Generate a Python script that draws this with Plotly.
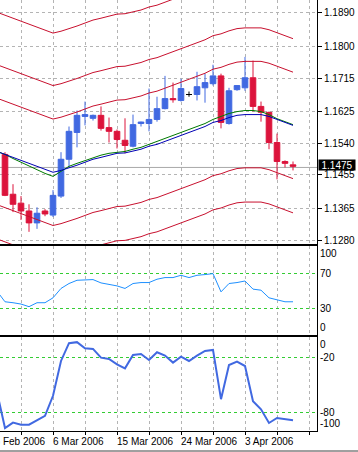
import plotly.graph_objects as go

# ---------------- data ----------------
bar_index = list(range(0, 37))          # one bar per trading day (Sunday bars included)
line_index = list(range(-1, 37))        # indicator lines start one bar earlier (off the left edge)

open_ = [1.1510, 1.1403, 1.1379, 1.1358, 1.1326, 1.1358, 1.1347, 1.1398, 1.1497, 1.1569,
         1.1612, 1.1607, 1.1615, 1.1582, 1.1572, 1.1548, 1.1532, 1.1593, 1.1593, 1.1604,
         1.1633, 1.1660, 1.1655, 1.1671, 1.1671, 1.1689, 1.1700, 1.1721, 1.1593, 1.1684,
         1.1689, 1.1716, 1.1639, 1.1623, 1.1542, 1.1491, 1.1482]
high = [1.1516, 1.1430, 1.1398, 1.1376, 1.1368, 1.1363, 1.1414, 1.1516, 1.1585, 1.1628,
        1.1652, 1.1617, 1.1639, 1.1609, 1.1577, 1.1607, 1.1617, 1.1598, 1.1687, 1.1665,
        1.1721, 1.1703, 1.1713, 1.1679, 1.1732, 1.1727, 1.1751, 1.1727, 1.1689, 1.1695,
        1.1772, 1.1762, 1.1652, 1.1625, 1.1566, 1.1494, 1.1491]
low = [1.1398, 1.1355, 1.1334, 1.1302, 1.1310, 1.1344, 1.1342, 1.1393, 1.1475, 1.1529,
       1.1588, 1.1601, 1.1574, 1.1542, 1.1526, 1.1513, 1.1529, 1.1585, 1.1572, 1.1598,
       1.1631, 1.1649, 1.1652, 1.1665, 1.1655, 1.1649, 1.1695, 1.1580, 1.1590, 1.1681,
       1.1681, 1.1625, 1.1598, 1.1524, 1.1443, 1.1475, 1.1467]
close = [1.1400, 1.1376, 1.1358, 1.1326, 1.1352, 1.1350, 1.1400, 1.1497, 1.1572, 1.1615,
         1.1617, 1.1615, 1.1580, 1.1572, 1.1550, 1.1534, 1.1590, 1.1597, 1.1604, 1.1633,
         1.1660, 1.1657, 1.1687, 1.1671, 1.1692, 1.1703, 1.1721, 1.1596, 1.1681, 1.1695,
         1.1716, 1.1639, 1.1623, 1.1542, 1.1491, 1.1486, 1.1478]

ma_blue = [1.1518, 1.1510, 1.1502, 1.1494, 1.1486, 1.1478, 1.1470, 1.1462, 1.1467, 1.1473,
           1.1481, 1.1489, 1.1497, 1.1502, 1.1508, 1.1513, 1.1514, 1.1518, 1.1524, 1.1532,
           1.1537, 1.1545, 1.1553, 1.1561, 1.1569, 1.1577, 1.1585, 1.1596, 1.1601, 1.1609,
           1.1615, 1.1617, 1.1617, 1.1617, 1.1612, 1.1604, 1.1596, 1.1588]
ma_green = [1.1518, 1.1510, 1.1499, 1.1489, 1.1478, 1.1470, 1.1459, 1.1451, 1.1465, 1.1478,
            1.1486, 1.1494, 1.1502, 1.1508, 1.1513, 1.1516, 1.1518, 1.1524, 1.1529, 1.1537,
            1.1545, 1.1553, 1.1561, 1.1569, 1.1577, 1.1585, 1.1593, 1.1604, 1.1612, 1.1620,
            1.1625, 1.1628, 1.1628, 1.1625, 1.1617, 1.1606, 1.1598, 1.1590]

band_upper_3 = [1.1892, 1.1884, 1.1876, 1.1868, 1.1860, 1.1852, 1.1844, 1.1836, 1.1841, 1.1847,
                1.1855, 1.1863, 1.1871, 1.1876, 1.1882, 1.1887, 1.1888, 1.1892, 1.1898, 1.1906,
                1.1911, 1.1919, 1.1927, 1.1935, 1.1943, 1.1951, 1.1959, 1.1970, 1.1975, 1.1983,
                1.1989, 1.1991, 1.1991, 1.1991, 1.1986, 1.1978, 1.1970, 1.1962]
band_upper_2 = [1.1751, 1.1743, 1.1735, 1.1727, 1.1719, 1.1711, 1.1703, 1.1695, 1.1700, 1.1706,
                1.1714, 1.1722, 1.1730, 1.1735, 1.1741, 1.1746, 1.1747, 1.1751, 1.1757, 1.1765,
                1.1770, 1.1778, 1.1786, 1.1794, 1.1802, 1.1810, 1.1818, 1.1829, 1.1834, 1.1842,
                1.1848, 1.1850, 1.1850, 1.1850, 1.1845, 1.1837, 1.1829, 1.1821]
band_upper_1 = [1.1661, 1.1653, 1.1645, 1.1637, 1.1629, 1.1621, 1.1613, 1.1605, 1.1610, 1.1616,
                1.1624, 1.1632, 1.1640, 1.1645, 1.1651, 1.1656, 1.1657, 1.1661, 1.1667, 1.1675,
                1.1680, 1.1688, 1.1696, 1.1704, 1.1712, 1.1720, 1.1728, 1.1739, 1.1744, 1.1752,
                1.1758, 1.1760, 1.1760, 1.1760, 1.1755, 1.1747, 1.1739, 1.1731]
band_lower_1 = [1.1375, 1.1367, 1.1359, 1.1351, 1.1343, 1.1335, 1.1327, 1.1319, 1.1324, 1.1330,
                1.1338, 1.1346, 1.1354, 1.1359, 1.1365, 1.1370, 1.1371, 1.1375, 1.1381, 1.1389,
                1.1394, 1.1402, 1.1410, 1.1418, 1.1426, 1.1434, 1.1442, 1.1453, 1.1458, 1.1466,
                1.1472, 1.1474, 1.1474, 1.1474, 1.1469, 1.1461, 1.1453, 1.1445]
band_lower_2 = [1.1283, 1.1275, 1.1267, 1.1259, 1.1251, 1.1243, 1.1235, 1.1227, 1.1232, 1.1238,
                1.1246, 1.1254, 1.1262, 1.1267, 1.1273, 1.1278, 1.1279, 1.1283, 1.1289, 1.1297,
                1.1302, 1.1310, 1.1318, 1.1326, 1.1334, 1.1342, 1.1350, 1.1361, 1.1366, 1.1374,
                1.1380, 1.1382, 1.1382, 1.1382, 1.1377, 1.1369, 1.1361, 1.1353]

rsi = [50.0, 37.9, 36.8, 35.3, 32.3, 36.8, 36.8, 42.4, 53.1, 58.7,
       62.4, 63.2, 63.2, 59.4, 57.9, 56.0, 53.1, 58.7, 59.8, 59.8,
       63.6, 65.5, 65.5, 68.1, 65.5, 68.1, 68.9, 70.0, 49.2, 58.7,
       59.8, 61.6, 52.3, 51.1, 42.4, 39.8, 37.9, 37.9]
wpr = [-58.0, -96.8, -90.9, -93.1, -93.1, -88.4, -83.6, -61.8, -24.0, -4.7,
       -3.6, -10.2, -10.9, -20.4, -21.8, -27.6, -32.0, -17.5, -16.4, -22.9,
       -14.5, -18.2, -25.8, -19.3, -24.0, -18.2, -13.1, -12.0, -65.5, -28.4,
       -24.8, -29.5, -67.6, -76.4, -91.3, -85.9, -87.3, -88.4]

price_ticks = [1.1890, 1.1800, 1.1715, 1.1625, 1.1540, 1.1455, 1.1365, 1.1280]
price_tick_labels = ["1.1890", "1.1800", "1.1715", "1.1625", "1.1540", "1.1455", "1.1365", "1.1280"]
last_price = 1.1475
last_price_label = "1.1475"

rsi_levels = [70, 30]
rsi_level_labels = ["70", "30"]
rsi_end_labels = [(100, "100"), (0, "0")]
wpr_levels = [-20, -80]
wpr_level_labels = ["-20", "-80"]
wpr_end_labels = [(0, "0"), (-100, "-100")]

date_labels = ["26 Feb 2006", "6 Mar 2006", "15 Mar 2006", "24 Mar 2006", "3 Apr 2006"]
date_label_index = [-2, 6, 14, 22, 30]
grid_index = list(range(2, 39, 4))

# ---------------- styles ----------------
X_RANGE = [-0.625, 39.0]
BULL = "#4169E1"
BEAR = "#DC143C"
BAND = "#C8102E"
GRID = "#B4B4B4"
LEVEL = "#33CC33"
FONT = dict(family="Liberation Sans, Arial", size=10, color="black")

fig = go.Figure()

# envelope bands
for band in [band_upper_3, band_upper_2, band_upper_1, band_lower_1, band_lower_2]:
    fig.add_trace(go.Scatter(x=line_index, y=band, mode="lines",
                             line=dict(color=BAND, width=1), xaxis="x", yaxis="y",
                             hoverinfo="skip"))

# candles: bull, bear, doji drawn as separate candlestick traces
def subset(cond):
    ids = [i for i in range(len(bar_index)) if cond(open_[i], close[i])]
    return ([bar_index[i] for i in ids], [open_[i] for i in ids], [high[i] for i in ids],
            [low[i] for i in ids], [close[i] for i in ids])

for cond, color in [(lambda o, c: c > o, BULL), (lambda o, c: c < o, BEAR), (lambda o, c: c == o, "black")]:
    xs, o, h, l, c = subset(cond)
    if not xs:
        continue
    fig.add_trace(go.Candlestick(
        x=xs, open=o, high=h, low=l, close=c, xaxis="x", yaxis="y",
        increasing=dict(line=dict(color=color, width=1), fillcolor=color),
        decreasing=dict(line=dict(color=color, width=1), fillcolor=color),
        whiskerwidth=0, hoverinfo="skip"))

# moving averages
fig.add_trace(go.Scatter(x=line_index, y=ma_green, mode="lines",
                         line=dict(color="#007A00", width=1), xaxis="x", yaxis="y", hoverinfo="skip"))
fig.add_trace(go.Scatter(x=line_index, y=ma_blue, mode="lines",
                         line=dict(color="#0000B4", width=1), xaxis="x", yaxis="y", hoverinfo="skip"))

# oscillator panels
fig.add_trace(go.Scatter(x=line_index, y=rsi, mode="lines",
                         line=dict(color="#1E90FF", width=1), xaxis="x2", yaxis="y2", hoverinfo="skip"))
fig.add_trace(go.Scatter(x=line_index, y=wpr, mode="lines",
                         line=dict(color="#4169E1", width=2), xaxis="x3", yaxis="y3", hoverinfo="skip"))

# ---------------- layout ----------------
H_PLOT = 431.0
def dom(top_px, bottom_px):
    return [(H_PLOT - bottom_px) / H_PLOT, (H_PLOT - top_px) / H_PLOT]

xcommon = dict(range=X_RANGE, tickvals=grid_index, showticklabels=False, showgrid=True,
               gridcolor=GRID, griddash="3px,3px", gridwidth=1, zeroline=False,
               showline=True, linecolor="black", linewidth=1, fixedrange=True, automargin=False)

fig.update_layout(
    width=358, height=452,
    margin=dict(l=0, r=41, t=0, b=21, autoexpand=False),
    paper_bgcolor="white", plot_bgcolor="white",
    showlegend=False,
    font=FONT,
    boxgap=0.3, boxgroupgap=0,
    xaxis=dict(**xcommon, domain=[0, 1], anchor="y", ticks="", rangeslider=dict(visible=False)),
    xaxis2=dict(**xcommon, domain=[0, 1], anchor="y2", matches="x", ticks="", mirror=True),
    xaxis3=dict(**xcommon, domain=[0, 1], anchor="y3", matches="x", mirror=True,
                ticks="outside", ticklen=3, tickcolor="black"),
    yaxis=dict(domain=dom(0, 244), anchor="x", side="right", range=[1.12693, 1.19249],
               tickvals=price_ticks, ticktext=price_tick_labels, ticks="outside", ticklen=4,
               tickcolor="black", showline=True, linecolor="black", linewidth=1,
               showgrid=True, gridcolor=GRID, griddash="3px,3px", zeroline=False,
               tickfont=FONT, fixedrange=True, automargin=False),
    yaxis2=dict(domain=dom(246, 335), anchor="x2", side="right", range=[0, 101.5],
                tickvals=rsi_levels, ticktext=rsi_level_labels, ticks="",
                showline=True, linecolor="black", linewidth=1,
                showgrid=True, gridcolor=LEVEL, griddash="3px,3px", zeroline=False,
                tickfont=FONT, fixedrange=True, automargin=False),
    yaxis3=dict(domain=dom(337, 431), anchor="x3", side="right", range=[-100, 2],
                tickvals=wpr_levels, ticktext=wpr_level_labels, ticks="",
                showline=True, linecolor="black", linewidth=1,
                showgrid=True, gridcolor=LEVEL, griddash="3px,3px", zeroline=False,
                tickfont=FONT, fixedrange=True, automargin=False),
)

annotations = []
span = X_RANGE[1] - X_RANGE[0]
for idx, txt in zip(date_label_index, date_labels):
    annotations.append(dict(text=txt, xref="paper", yref="paper",
                            x=(idx - X_RANGE[0]) / span, y=(H_PLOT - 434) / H_PLOT,
                            xanchor="left", yanchor="top", xshift=-2, showarrow=False, font=FONT))
for val, txt in rsi_end_labels:
    annotations.append(dict(text=txt, xref="paper", yref="y2 domain", x=1, y=1 if val == 100 else 0,
                            xanchor="left", yanchor="top" if val == 100 else "bottom",
                            xshift=1, showarrow=False, font=FONT))
for val, txt in wpr_end_labels:
    annotations.append(dict(text=txt, xref="paper", yref="y3 domain", x=1, y=1 if val == 0 else 0,
                            xanchor="left", yanchor="top" if val == 0 else "bottom",
                            xshift=1, showarrow=False, font=FONT))
annotations.append(dict(text=last_price_label, xref="paper", yref="y", x=1, y=last_price,
                        xanchor="left", yanchor="middle", xshift=1, yshift=2, showarrow=False,
                        bgcolor="black", width=36, height=10, borderpad=0,
                        font=dict(family=FONT["family"], size=10, color="white")))
fig.update_layout(annotations=annotations)

# last price line and window frame
fig.add_shape(type="line", xref="paper", yref="y", x0=0, x1=1, y0=last_price, y1=last_price,
              line=dict(color="#A8A8A8", width=1), layer="below")
fig.add_shape(type="line", xref="paper", yref="paper", x0=0, x1=358 / 317.0,
              y0=(H_PLOT - 451) / H_PLOT, y1=(H_PLOT - 451) / H_PLOT,
              line=dict(color="#404040", width=1))

fig.write_html("out.html", config={"displayModeBar": False, "staticPlot": True},
               post_script="document.body.style.margin='0';")
